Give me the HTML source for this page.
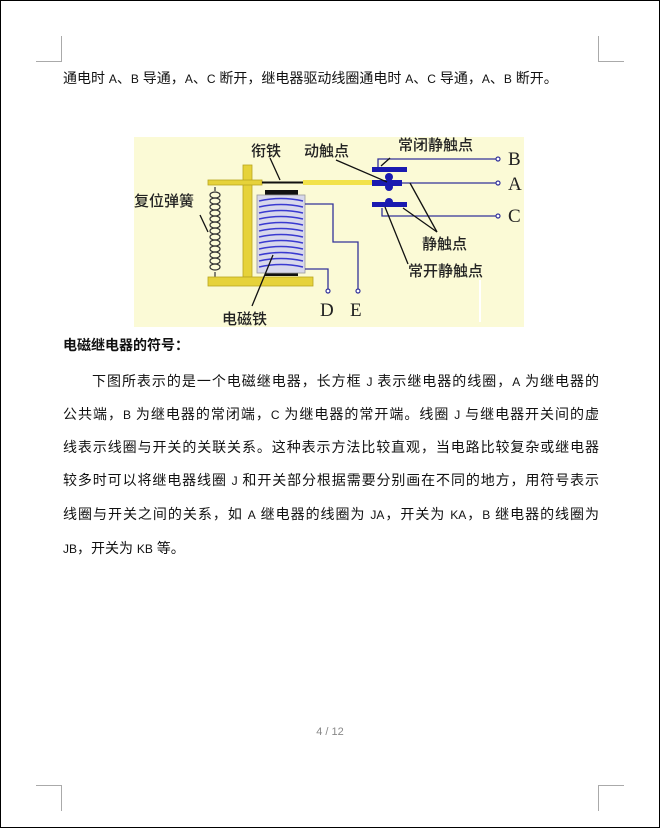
<!DOCTYPE html>
<html><head><meta charset="utf-8"><style>
html,body{margin:0;padding:0}
body{width:660px;height:828px;position:relative;overflow:hidden;background:#fff;font-family:"Liberation Sans","Noto Sans CJK SC",sans-serif;color:#111}
.frame{position:absolute;left:0;top:0;width:658px;height:826px;border:1px solid #000}
.c{position:absolute;background:#aaa}
.ln{position:absolute;left:63px;width:536px;font-size:14px;line-height:20px;white-space:nowrap}
.j{text-align:justify;text-align-last:justify}
.s{font-size:12px}
</style></head><body>
<div class="frame"></div>
<div class="c" style="left:61px;top:36px;width:1px;height:26px"></div>
<div class="c" style="left:36px;top:61px;width:26px;height:1px"></div>
<div class="c" style="left:598px;top:36px;width:1px;height:26px"></div>
<div class="c" style="left:598px;top:61px;width:26px;height:1px"></div>
<div class="c" style="left:61px;top:785px;width:1px;height:26px"></div>
<div class="c" style="left:36px;top:785px;width:26px;height:1px"></div>
<div class="c" style="left:598px;top:785px;width:1px;height:26px"></div>
<div class="c" style="left:598px;top:785px;width:26px;height:1px"></div>

<div class="ln" style="top:68px">通电时 <span class="s">A</span>、<span class="s">B</span> 导通，<span class="s">A</span>、<span class="s">C</span> 断开，继电器驱动线圈通电时 <span class="s">A</span>、<span class="s">C</span> 导通，<span class="s">A</span>、<span class="s">B</span> 断开。</div>

<svg style="position:absolute;left:134px;top:137px" width="390" height="190" viewBox="134 137 390 190">
<rect x="134" y="137" width="390" height="190" fill="#fbfad6"/>
<line x1="480" y1="280" x2="480" y2="322" stroke="#fff" stroke-width="2"/>
<g fill="none" stroke="#333" stroke-width="1.2">
<path d="M215 187 v4 M215 272 v5"/>
<ellipse cx="215" cy="195" rx="5" ry="3"/><ellipse cx="215" cy="201" rx="5" ry="3"/><ellipse cx="215" cy="207" rx="5" ry="3"/><ellipse cx="215" cy="213" rx="5" ry="3"/><ellipse cx="215" cy="219" rx="5" ry="3"/><ellipse cx="215" cy="225" rx="5" ry="3"/><ellipse cx="215" cy="231" rx="5" ry="3"/><ellipse cx="215" cy="237" rx="5" ry="3"/><ellipse cx="215" cy="243" rx="5" ry="3"/><ellipse cx="215" cy="249" rx="5" ry="3"/><ellipse cx="215" cy="255" rx="5" ry="3"/><ellipse cx="215" cy="261" rx="5" ry="3"/><ellipse cx="215" cy="267" rx="5" ry="3"/>
</g>
<rect x="243" y="165" width="9" height="112" fill="#e6d23a" stroke="#b8a520" stroke-width=".8"/>
<rect x="208" y="277" width="105" height="9" fill="#e6d23a" stroke="#b8a520" stroke-width=".8"/>
<rect x="208" y="180" width="54" height="5" fill="#e6d23a" stroke="#b8a520" stroke-width=".8"/>
<line x1="262" y1="182.5" x2="303" y2="182.5" stroke="#111" stroke-width="2"/>
<rect x="303" y="180" width="70" height="5" fill="#f2e24a"/>
<rect x="265" y="190" width="33" height="5" fill="#111"/>
<rect x="265" y="272" width="33" height="4" fill="#111"/>
<rect x="257" y="195" width="48" height="78" fill="#d8d8ec" stroke="#999" stroke-width=".8"/>
<g stroke="#3a3ad0" stroke-width="1.6" fill="none">
<path d="M259 201 Q281 196 303 201 M259 207 Q281 202 303 207 M259 213 Q281 208 303 213 M259 219 Q281 214 303 219 M259 225 Q281 220 303 225 M259 231 Q281 226 303 231 M259 237 Q281 232 303 237 M259 243 Q281 238 303 243 M259 249 Q281 244 303 249 M259 255 Q281 250 303 255 M259 261 Q281 256 303 261 M259 267 Q281 262 303 267"/>
</g>
<g stroke="#33339a" stroke-width="1.3" fill="none">
<path d="M305 204 H333 V242 H358 V290"/>
<path d="M305 269 H328 V290"/>
<path d="M378 167 V159 H497"/>
<path d="M400 183 H497"/>
<path d="M382 208 V216 H497"/>
</g>
<g fill="#fff" stroke="#33339a" stroke-width="1.2">
<circle cx="328" cy="291" r="2"/><circle cx="358" cy="291" r="2"/>
<circle cx="498" cy="159" r="2"/><circle cx="498" cy="183" r="2"/><circle cx="498" cy="216" r="2"/>
</g>
<rect x="372" y="167" width="35" height="5" fill="#1a1ab0"/>
<rect x="372" y="180" width="30" height="6" fill="#1a1ab0"/>
<circle cx="389" cy="177" r="4" fill="#1a1ab0"/>
<circle cx="389" cy="187" r="4" fill="#1a1ab0"/>
<rect x="372" y="202" width="35" height="5" fill="#1a1ab0"/>
<circle cx="389" cy="202" r="4" fill="#1a1ab0"/>
<g stroke="#111" stroke-width="1.3">
<line x1="270" y1="158" x2="280" y2="180"/>
<line x1="336" y1="160" x2="387" y2="182"/>
<line x1="390" y1="158" x2="381" y2="166"/>
<line x1="410" y1="183" x2="437" y2="232"/>
<line x1="403" y1="208" x2="437" y2="232"/>
<line x1="385" y1="207" x2="408" y2="264"/>
<line x1="200" y1="215" x2="208" y2="232"/>
<line x1="252" y1="306" x2="273" y2="255"/>
</g>
<g font-family="'Noto Sans CJK SC',sans-serif" font-size="15" fill="#222" font-weight="500">
<text x="251" y="156">衔铁</text>
<text x="304" y="156">动触点</text>
<text x="398" y="150">常闭静触点</text>
<text x="134" y="206">复位弹簧</text>
<text x="422" y="249">静触点</text>
<text x="408" y="276">常开静触点</text>
<text x="222" y="324">电磁铁</text>
</g>
<g font-family="'Liberation Serif',serif" font-size="19" fill="#222">
<text x="508" y="165">B</text><text x="508" y="190">A</text><text x="508" y="222">C</text>
<text x="320" y="316">D</text><text x="350" y="316">E</text>
</g>
</svg>

<div class="ln" style="top:335px;font-weight:bold">电磁继电器的符号：</div>
<div class="ln j" style="top:371px">&emsp;&emsp;下图所表示的是一个电磁继电器，长方框 <span class="s">J</span> 表示继电器的线圈，<span class="s">A</span> 为继电器的</div>
<div class="ln j" style="top:404px">公共端，<span class="s">B</span> 为继电器的常闭端，<span class="s">C</span> 为继电器的常开端。线圈 <span class="s">J</span> 与继电器开关间的虚</div>
<div class="ln j" style="top:437px">线表示线圈与开关的关联关系。这种表示方法比较直观，当电路比较复杂或继电器</div>
<div class="ln j" style="top:470px">较多时可以将继电器线圈 <span class="s">J</span> 和开关部分根据需要分别画在不同的地方，用符号表示</div>
<div class="ln j" style="top:504px">线圈与开关之间的关系，如 <span class="s">A</span> 继电器的线圈为 <span class="s">JA</span>，开关为 <span class="s">KA</span>，<span class="s">B</span> 继电器的线圈为</div>
<div class="ln" style="top:538px"><span class="s">JB</span>，开关为 <span class="s">KB</span> 等。</div>

<div style="position:absolute;left:0;width:660px;top:726px;text-align:center;font-size:11px;color:#888">4 / 12</div>
</body></html>
